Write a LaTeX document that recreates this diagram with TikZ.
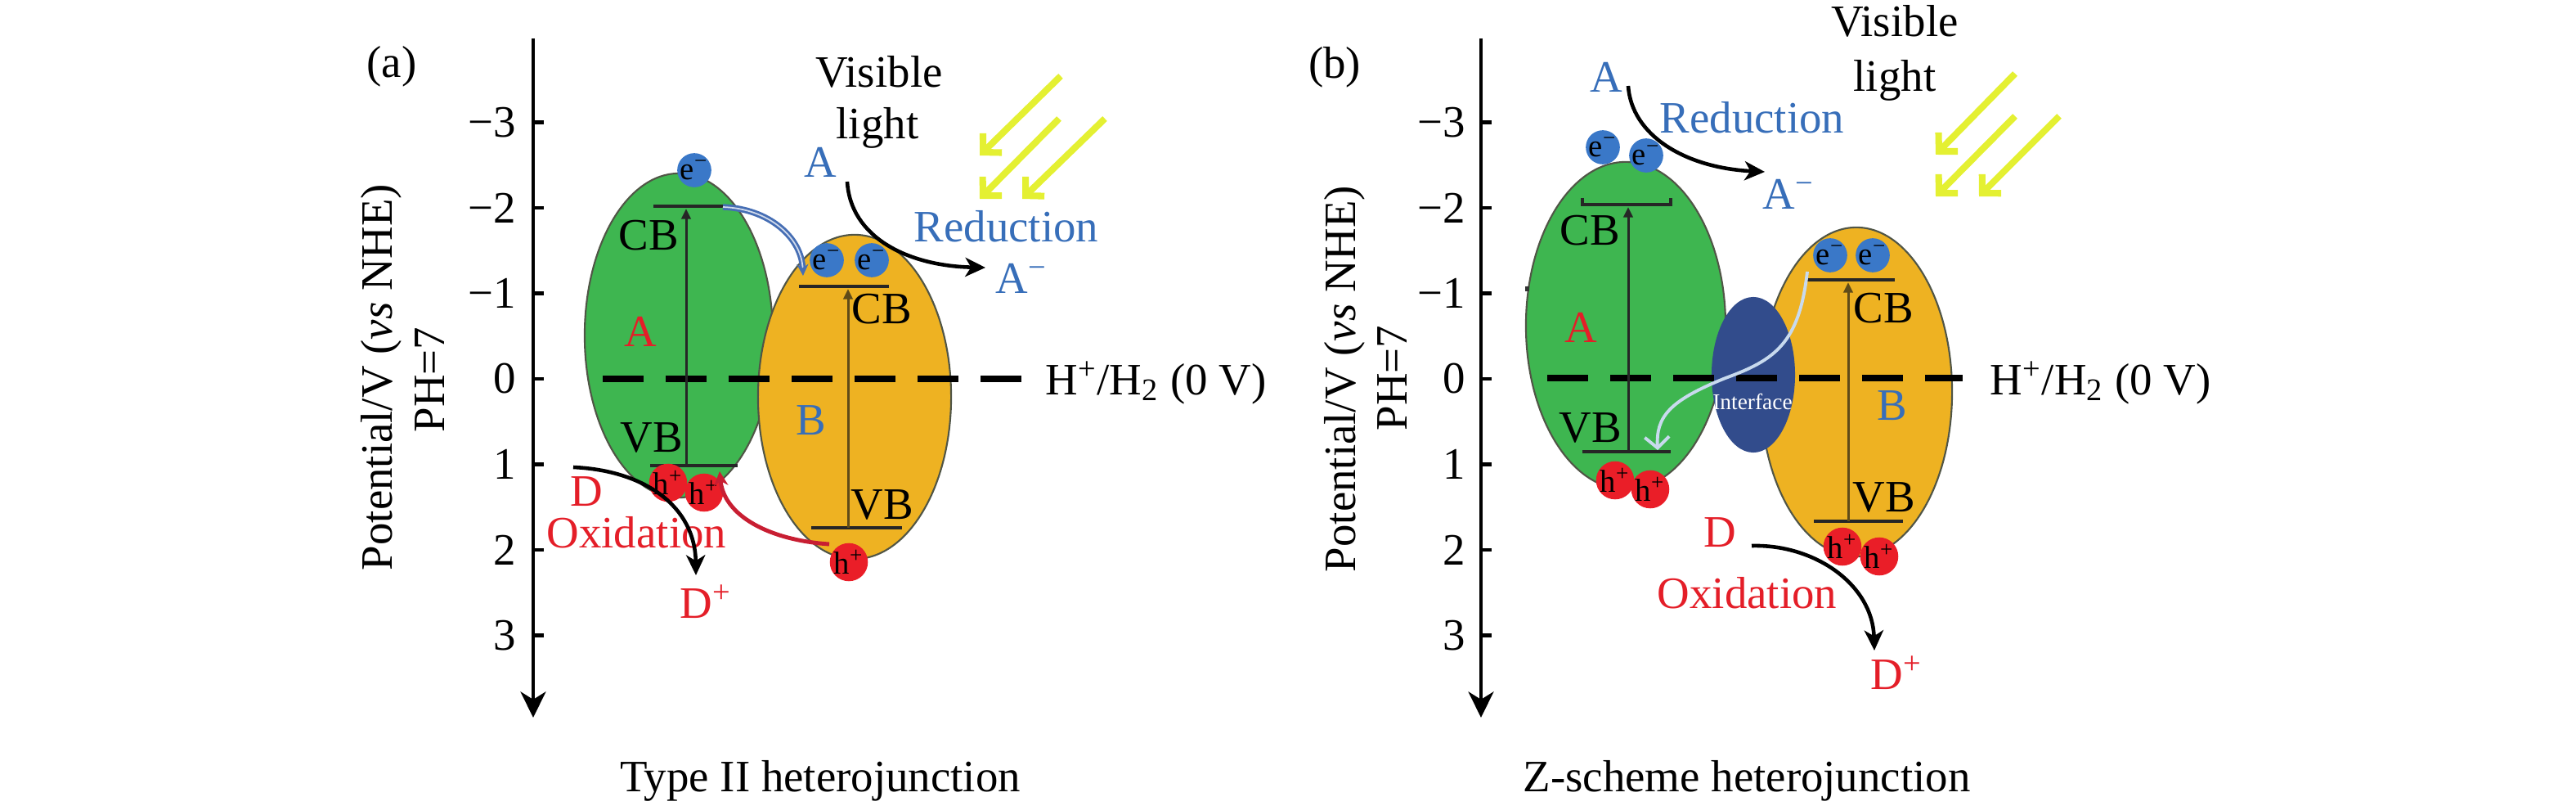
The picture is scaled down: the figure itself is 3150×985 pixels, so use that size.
\documentclass[tikz,border=0pt]{standalone}
\usepackage{fontspec}
\setmainfont{Liberation Serif}
\usetikzlibrary{shapes.geometric,arrows.meta}
\definecolor{gfill}{RGB}{62,182,80}
\definecolor{ofill}{RGB}{238,178,34}
\definecolor{outl}{RGB}{80,85,70}
\definecolor{eblue}{RGB}{58,120,200}
\definecolor{hred}{RGB}{234,30,40}
\definecolor{tred}{RGB}{228,30,40}
\definecolor{tblue}{RGB}{55,110,185}
\definecolor{ylw}{RGB}{228,240,50}
\definecolor{itfc}{RGB}{50,76,140}
\definecolor{lblue}{RGB}{200,218,238}
\definecolor{arrred}{RGB}{200,30,50}
\definecolor{cbblue}{RGB}{70,110,180}
\definecolor{brn}{RGB}{95,75,25}
\begin{document}
\begin{tikzpicture}[x=0.01cm,y=-0.01cm,
  every node/.style={inner sep=0pt, font=\fontsize{15.6}{18.5}\selectfont},
  axisline/.style={line width=1.15pt, -{Stealth[length=9pt,width=8.8pt,inset=2.7pt]}},
  tickline/.style={line width=1.15pt},
  zerodash/.style={line width=2pt, dash pattern=on 14.2pt off 7.7pt},
  bandline/.style={line width=1.4pt, black!85},
  vband/.style={line width=0.85pt, -{Triangle[length=3.6pt,width=3.2pt]}},
  blob/.style={ellipse, draw=outl, line width=0.6pt, inner sep=0pt},
  ebub/.style={circle, fill=eblue, minimum size=0.38cm, font=\fontsize{11}{11}\selectfont},
  hbub/.style={circle, fill=hred, minimum size=0.40cm, font=\fontsize{11}{11}\selectfont},
  react/.style={line width=1.3pt, -{Stealth[length=7pt,width=6.6pt,inset=2pt]}},
  lightray/.style={ylw, line width=2.3pt, -{Straight Barb[length=4.6pt,width=9.4pt]}},
  redtxt/.style={text=tred},
  bluetxt/.style={text=tblue}]
\useasboundingbox (0,0) rectangle (3150,985);

%================ panel (a) ================
\node (laba) at (479,81) {(a)};
\node[rotate=90] (ylaba1) at (466,461) {Potential/V (\textit{vs} NHE)};
\node[rotate=90] (ylaba2) at (526,464) {PH=7};
\coordinate (axaT) at (652,47);
\coordinate (axaB) at (652,877);
\draw[axisline] (axaT) -- (axaB);
\foreach \v/\t/\n in {-3/−3/1,-2/−2/2,-1/−1/3,0/0/4,1/1/5,2/2/6,3/3/7}{
  \draw[tickline] ({652},{463+104.5*(\v)}) -- ++(13,0);
  \node[anchor=east] (tka\n) at ({632},{463+104.5*(\v)}) {\t};
}

% semiconductors
\node[blob, fill=gfill, minimum width=2.3cm, minimum height=3.96cm] (gA) at (830,410) {};
\node[blob, fill=ofill, minimum width=2.36cm, minimum height=3.96cm] (oA) at (1045,485) {};

% H+/H2 level
\node[anchor=base west] (hhA) at (1278,482) {H\textsuperscript{+}/H\textsubscript{2} (0 V)};
\coordinate (zA1) at (737,463);
\coordinate (zA2) at (1249,463);
\draw[zerodash] (zA1) -- (zA2);

% bands
\draw[bandline] (799,252) -- (884,252);
\draw[bandline] (795,569) -- (902,569);
\draw[vband, black!85] (839,569) -- (839,255);
\draw[bandline] (977,350) -- (1087,350);
\draw[bandline] (992,645) -- (1103,645);
\draw[vband, brn] (1037,645) -- (1037,353);

\node (cbA1) at (793,288) {CB};
\node (vbA1) at (797,535) {VB};
\node[redtxt] (nmA1) at (783,405) {A};
\node (cbA2) at (1078,378) {CB};
\node (vbA2) at (1079,617) {VB};
\node[bluetxt] (nmB1) at (992,514) {B};

% transfer arrows
\coordinate (bcA1) at (884,253);
\coordinate (bcA2) at (982,337);
\draw[cbblue, line width=0.8pt, double=white!75!cbblue, double distance=0.5pt, -{Stealth[length=4pt,width=4pt]}]
  (bcA1) .. controls (940,255) and (980,290) .. (bcA2);

% carriers
\node[ebub] (eA1) at (849,208) {e\textsuperscript{−}};
\node[ebub] (eA2) at (1011,318) {e\textsuperscript{−}};
\node[ebub] (eA3) at (1066,318) {e\textsuperscript{−}};
\node[hbub] (hA1) at (817,590) {h\textsuperscript{+}};
\node[hbub] (hA2) at (861,602) {h\textsuperscript{+}};
\node[hbub] (hA3) at (1038,687) {h\textsuperscript{+}};

\coordinate (rcA1) at (1014,665);
\coordinate (rcA2) at (880,576);
\draw[arrred, line width=1.4pt, -{Stealth[length=5pt,width=5pt]}]
  (rcA1) .. controls (940,660) and (885,630) .. (rcA2);

% light
\node[anchor=base] (visA) at (1075,107) {Visible};
\node[anchor=base] (ligA) at (1073,170) {light};
\coordinate (ya1s) at (1297,93);  \coordinate (ya1e) at (1198,190);
\coordinate (ya2s) at (1295,145); \coordinate (ya2e) at (1198,243);
\coordinate (ya3s) at (1351,145); \coordinate (ya3e) at (1250,243);
\draw[lightray] (ya1s) -- (ya1e);
\draw[lightray] (ya2s) -- (ya2e);
\draw[lightray] (ya3s) -- (ya3e);

% reduction
\node[bluetxt, anchor=base west] (acA) at (983,217) {A};
\node[bluetxt, anchor=base west] (redA) at (1117,296) {Reduction};
\node[bluetxt, anchor=base west] (amA) at (1217,358) {A\textsuperscript{−}};
\coordinate (raA1) at (1036,222);
\coordinate (raA2) at (1205,327);
\draw[react] (raA1) .. controls (1040,290) and (1110,325) .. (raA2);

% oxidation
\node[redtxt, anchor=base west] (dA) at (697,618) {D};
\node[redtxt, anchor=base west] (oxA) at (668,669) {Oxidation};
\node[redtxt, anchor=base west] (dpA) at (831,755) {D\textsuperscript{+}};
\coordinate (oaA1) at (701,571);
\coordinate (oaA2) at (851,703);
\draw[react] (oaA1) .. controls (790,575) and (850,620) .. (oaA2);

\node[anchor=base] (ttlA) at (1003,967) {Type II heterojunction};

%================ panel (b) ================
\node (labb) at (1632,82) {(b)};
\node[rotate=90] (ylabb1) at (1644,463) {Potential/V (\textit{vs} NHE)};
\node[rotate=90] (ylabb2) at (1703,462) {PH=7};
\coordinate (axbT) at (1811,47);
\coordinate (axbB) at (1811,877);
\draw[axisline] (axbT) -- (axbB);
\foreach \v/\t/\n in {-3/−3/1,-2/−2/2,-1/−1/3,0/0/4,1/1/5,2/2/6,3/3/7}{
  \draw[tickline] ({1811},{463+104.5*(\v)}) -- ++(13,0);
  \node[anchor=east] (tkb\n) at ({1793},{463+104.5*(\v)}) {\t};
}

\node[blob, fill=gfill, minimum width=2.44cm, minimum height=4.0cm] (gB) at (1988,398) {};
\node[blob, fill=ofill, minimum width=2.34cm, minimum height=4.02cm] (oB) at (2270,479) {};
\node[ellipse, fill=itfc, inner sep=0pt, minimum width=1.02cm, minimum height=1.9cm] (itf) at (2144,458) {};
\fill[black!80] (1865,350) rectangle (1870,356);

\node[anchor=base west] (hhB) at (2433,482) {H\textsuperscript{+}/H\textsubscript{2} (0 V)};
\coordinate (zB1) at (1892,462);
\coordinate (zB2) at (2400,462);
\draw[zerodash] (zB1) -- (zB2);

\node[text=white, font=\fontsize{7.8}{8}\selectfont] (itfT) at (2143,491) {Interface};

\draw[bandline] (1935,242) -- (1935,250) -- (2043,250) -- (2043,242);
\draw[bandline] (1935,552) -- (2043,552);
\draw[vband, black!85] (1991,552) -- (1991,253);
\draw[bandline] (2210,342) -- (2317,342);
\draw[bandline] (2218,637) -- (2327,637);
\draw[vband, brn] (2260,637) -- (2260,345);

\node (cbB1) at (1944,282) {CB};
\node (vbB1) at (1945,523) {VB};
\node[redtxt] (nmA2) at (1933,400) {A};
\node (cbB2) at (2303,377) {CB};
\node (vbB2) at (2304,608) {VB};
\node[bluetxt] (nmB2) at (2314,496) {B};

\node[ebub] (eB1) at (1960,180) {e\textsuperscript{−}};
\node[ebub] (eB2) at (2013,190) {e\textsuperscript{−}};
\node[ebub] (eB3) at (2238,312) {e\textsuperscript{−}};
\node[ebub] (eB4) at (2290,312) {e\textsuperscript{−}};
\node[hbub] (hB1) at (1975,587) {h\textsuperscript{+}};
\node[hbub] (hB2) at (2018,598) {h\textsuperscript{+}};
\node[hbub] (hB3) at (2253,668) {h\textsuperscript{+}};
\node[hbub] (hB4) at (2298,680) {h\textsuperscript{+}};

% Z-scheme transfer
\coordinate (zsB1) at (2210,332);
\coordinate (zsB2) at (2027,550);
\draw[lblue, line width=1.1pt, -{Straight Barb[length=3.8pt,width=8.5pt]}]
  (zsB1) .. controls (2200,420) and (2170,440) .. (2110,462)
         .. controls (2040,490) and (2025,510) .. (zsB2);

% light
\node[anchor=base] (visB) at (2317,45) {Visible};
\node[anchor=base] (ligB) at (2317,112) {light};
\coordinate (yb1s) at (2464,90);  \coordinate (yb1e) at (2367,189);
\coordinate (yb2s) at (2464,142); \coordinate (yb2e) at (2367,240);
\coordinate (yb3s) at (2518,142); \coordinate (yb3e) at (2420,240);
\draw[lightray] (yb1s) -- (yb1e);
\draw[lightray] (yb2s) -- (yb2e);
\draw[lightray] (yb3s) -- (yb3e);

% reduction
\node[bluetxt, anchor=base west] (acB) at (1944,113) {A};
\node[bluetxt, anchor=base west] (redB) at (2029,163) {Reduction};
\node[bluetxt, anchor=base west] (amB) at (2155,255) {A\textsuperscript{−}};
\coordinate (raB1) at (1991,105);
\coordinate (raB2) at (2158,210);
\draw[react] (raB1) .. controls (1995,165) and (2060,205) .. (raB2);

% oxidation
\node[redtxt, anchor=base west] (dB) at (2083,668) {D};
\node[redtxt, anchor=base west] (oxB) at (2026,743) {Oxidation};
\node[redtxt, anchor=base west] (dpB) at (2287,842) {D\textsuperscript{+}};
\coordinate (oaB1) at (2142,667);
\coordinate (oaB2) at (2292,795);
\draw[react] (oaB1) .. controls (2220,665) and (2290,715) .. (oaB2);

\node[anchor=base] (ttlB) at (2136,967) {Z-scheme heterojunction};
\end{tikzpicture}
\end{document}
